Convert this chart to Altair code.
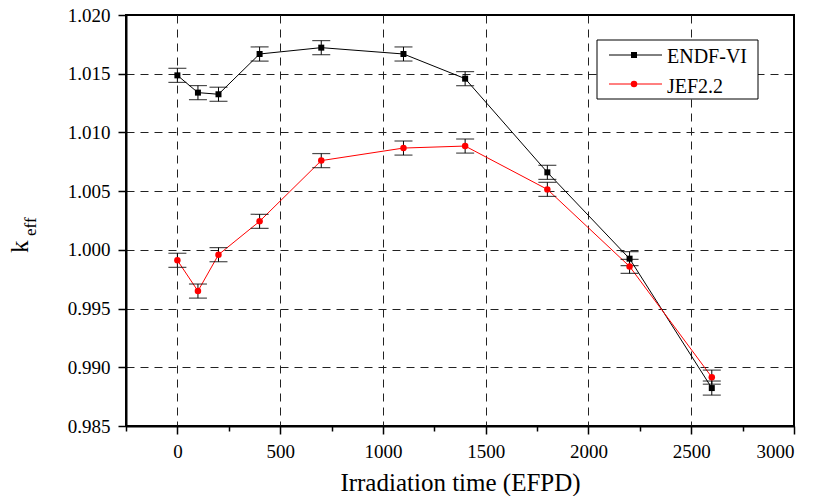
import altair as alt
import pandas as pd

# ---- data ----
time_efpd = [0, 100, 200, 400, 700, 1100, 1400, 1800, 2200, 2600]
endf_keff = [1.01486, 1.01339, 1.01325, 1.01668, 1.01722, 1.01668, 1.01458, 1.00660, 0.99925, 0.98823]
endf_err = [0.0006, 0.0006, 0.0006, 0.0006, 0.0006, 0.0006, 0.0006, 0.0006, 0.0006, 0.0006]
jef_keff = [0.99911, 0.99649, 0.99959, 1.00243, 1.00760, 1.00867, 1.00884, 1.00515, 0.99859, 0.98916]
jef_err = [0.0006, 0.0006, 0.0006, 0.0006, 0.0006, 0.0006, 0.0006, 0.0006, 0.0006, 0.0006]
series_names = ["ENDF-VI", "JEF2.2"]
series_colors = ["#000000", "#ff0000"]
x_ticks = list(range(-250, 3001, 250))
y_ticks = [round(0.985 + i * 0.0025, 4) for i in range(15)]
y_title_main = "k"
y_title_sub = "eff"

rows = []
for name, vals, errs in [("ENDF-VI", endf_keff, endf_err), ("JEF2.2", jef_keff, jef_err)]:
    for t, v, e in zip(time_efpd, vals, errs):
        rows.append({"t": t, "k": v, "lo": v - e, "hi": v + e, "series": name})
df = pd.DataFrame(rows)

FONT = "Liberation Serif"

xscale = alt.Scale(domain=[-250, 3000], nice=False, zero=False)
yscale = alt.Scale(domain=[0.985, 1.020], nice=False, zero=False)

minor_x = "datum.value % 500 !== 0"
minor_y = "abs(round(datum.value * 10000) % 50) !== 0"

x_axis = alt.Axis(
    values=x_ticks, format="d", title="Irradiation time (EFPD)",
    labelExpr="datum.value % 500 === 0 ? datum.label : ''",
    grid=True, gridDash=[8, 6], gridColor="#222222", gridWidth=1,
    gridOpacity={"condition": {"test": minor_x + " || datum.value <= -250 || datum.value >= 3000", "value": 0}, "value": 1},
    tickSize={"condition": {"test": minor_x, "value": 5}, "value": 8},
    tickColor="black", tickWidth=1.5, domainColor="black", domainWidth=2,
    labelFontSize=19, labelColor="black", labelPadding=8,
    titleFontSize=25, titleFontWeight="normal", titleColor="black", titlePadding=9,
)
y_axis = alt.Axis(
    values=y_ticks, format=".3f", title=None,
    labelExpr="abs(round(datum.value * 10000) % 50) === 0 ? datum.label : ''",
    grid=True, gridDash=[8, 6], gridColor="#222222", gridWidth=1,
    gridOpacity={"condition": {"test": minor_y + " || datum.value <= 0.985 || datum.value >= 1.02", "value": 0}, "value": 1},
    tickSize={"condition": {"test": minor_y, "value": 5}, "value": 8},
    tickColor="black", tickWidth=1.5, domainColor="black", domainWidth=2,
    labelFontSize=19, labelColor="black", labelPadding=8,
)

color = alt.Color("series:N", scale=alt.Scale(domain=series_names, range=series_colors), legend=None)

base = alt.Chart(df)

lines = base.mark_line(strokeWidth=1).encode(
    x=alt.X("t:Q", scale=xscale, axis=x_axis),
    y=alt.Y("k:Q", scale=yscale, axis=y_axis),
    color=color,
    detail="series:N",
)
err_rule = base.mark_rule(color="black", strokeWidth=1).encode(
    x="t:Q", y="lo:Q", y2="hi:Q"
)
cap_lo = base.mark_tick(color="black", orient="horizontal", size=18, thickness=1.2).encode(x="t:Q", y="lo:Q")
cap_hi = base.mark_tick(color="black", orient="horizontal", size=18, thickness=1.2).encode(x="t:Q", y="hi:Q")
endf_pts = alt.Chart(df[df.series == "ENDF-VI"]).mark_point(shape="square", filled=True, size=36, opacity=1, color="black").encode(
    x="t:Q", y="k:Q"
)
jef_pts = alt.Chart(df[df.series == "JEF2.2"]).mark_point(shape="circle", filled=True, size=42, opacity=1, color="red").encode(
    x="t:Q", y="k:Q"
)

# ---- y-axis title k_eff (subscript) ----
k_txt = alt.Chart(pd.DataFrame({"s": [y_title_main]})).mark_text(
    fontSize=25, angle=270, align="left", baseline="alphabetic", color="black"
).encode(x=alt.value(-98), y=alt.value(238), text="s:N")
eff_txt = alt.Chart(pd.DataFrame({"s": [y_title_sub]})).mark_text(
    fontSize=17, angle=270, align="left", baseline="alphabetic", color="black"
).encode(x=alt.value(-90), y=alt.value(221), text="s:N")

# ---- legend ----
one = pd.DataFrame({"a": [0]})
leg_box = alt.Chart(one).mark_rect(fill="white", stroke="black", strokeWidth=1).encode(
    x=alt.value(471), x2=alt.value(632), y=alt.value(25), y2=alt.value(84)
)
leg_layers = [leg_box]
for name, col, shape, size, ly, ty in [("ENDF-VI", "black", "square", 36, 40, 48), ("JEF2.2", "red", "circle", 42, 69, 77.5)]:
    d = pd.DataFrame({"label": [name]})
    leg_layers.append(alt.Chart(d).mark_rule(color=col, strokeWidth=1).encode(
        x=alt.value(483), x2=alt.value(536), y=alt.value(ly)))
    leg_layers.append(alt.Chart(d).mark_point(shape=shape, filled=True, size=size, opacity=1, color=col).encode(
        x=alt.value(508), y=alt.value(ly)))
    leg_layers.append(alt.Chart(d).mark_text(fontSize=20, align="left", baseline="alphabetic", color="black").encode(
        x=alt.value(541), y=alt.value(ty), text="label:N"))

chart = alt.layer(
    lines, err_rule, cap_lo, cap_hi, endf_pts, jef_pts, k_txt, eff_txt, *leg_layers
).properties(
    width=668, height=411,
    autosize=alt.AutoSizeParams(type="none"),
    padding={"left": 118, "top": 7, "right": 16, "bottom": 70},
).configure(
    background="white", font=FONT
).configure_axis(
    labelFont=FONT, titleFont=FONT
).configure_text(
    font=FONT
).configure_view(
    stroke="black", strokeWidth=2
)

chart.save("out.html", embed_options={"renderer": "svg", "actions": False})
